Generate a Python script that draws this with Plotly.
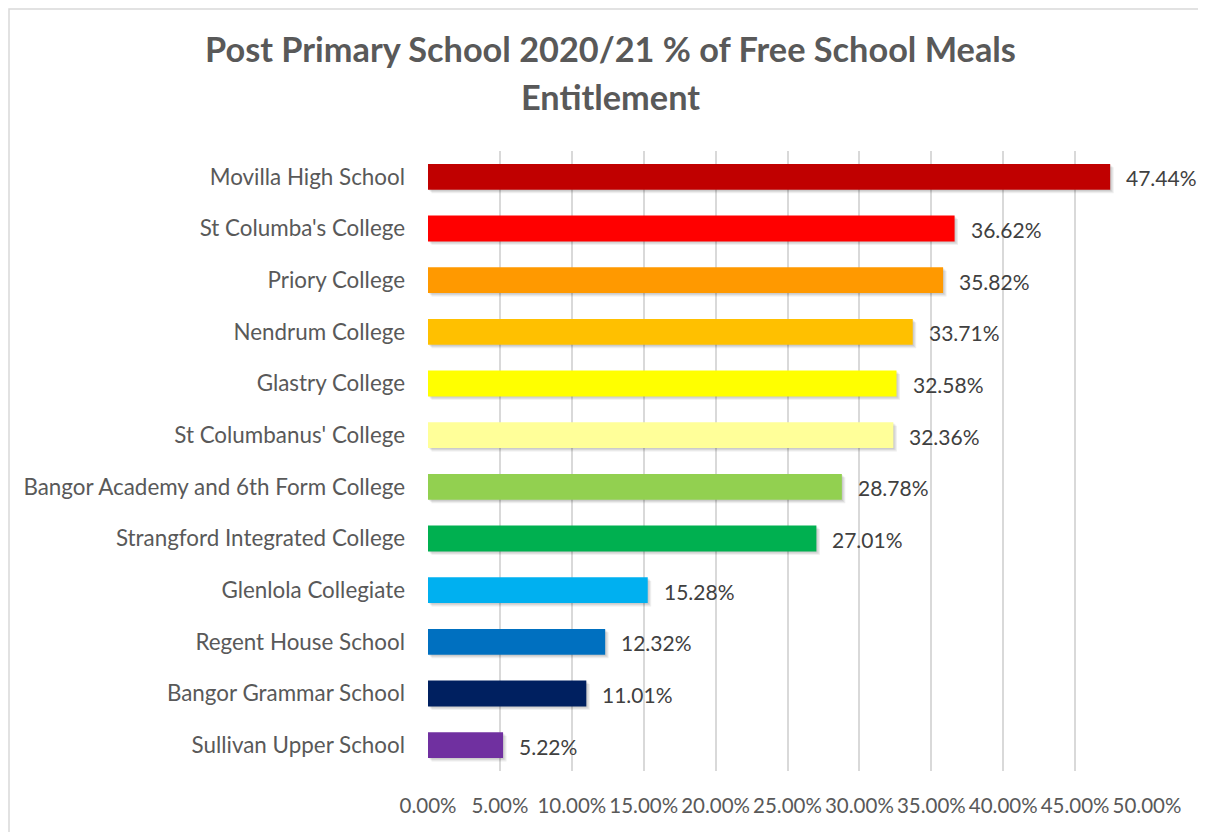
import plotly.graph_objects as go

schools = [
    "Movilla High School",
    "St Columba's College",
    "Priory College",
    "Nendrum College",
    "Glastry College",
    "St Columbanus' College",
    "Bangor Academy and 6th Form College",
    "Strangford Integrated College",
    "Glenlola Collegiate",
    "Regent House School",
    "Bangor Grammar School",
    "Sullivan Upper School",
]
fsm_pct = [47.44, 36.62, 35.82, 33.71, 32.58, 32.36, 28.78, 27.01, 15.28, 12.32, 11.01, 5.22]
bar_colors = ["#C00000", "#FF0000", "#FF9900", "#FFC000", "#FFFF00", "#FFFF99",
              "#92D050", "#00B050", "#00B0F0", "#0070C0", "#002060", "#7030A0"]
tick_vals = [0, 5, 10, 15, 20, 25, 30, 35, 40, 45, 50]
tick_text = ["0.00%", "5.00%", "10.00%", "15.00%", "20.00%", "25.00%", "30.00%",
             "35.00%", "40.00%", "45.00%", "50.00%"]
title_lines = ["Post Primary School 2020/21 % of Free School Meals", "Entitlement"]

FONT = "Lato"
GRAY = "#595959"
BAR_W = 0.5

# page body has an 8px margin; work in page pixels and convert
OFF = 8
PAGE_W, PAGE_H = 1206, 832
W, H = PAGE_W - OFF, PAGE_H - OFF
L, R, T, B = 428 - OFF, PAGE_W - 1147, 151 - OFF, PAGE_H - 771
pw, ph = W - L - R, H - T - B

def px_x(p):
    return (p - OFF - L) / pw

def px_y(p):
    return (H - B - (p - OFF)) / ph

fig = go.Figure()
# soft drop shadow layers
for k in (3, 2, 1):
    fig.add_trace(go.Bar(
        y=schools,
        x=fsm_pct,
        base=0.08 * k,
        orientation="h",
        width=BAR_W,
        offset=-BAR_W / 2 + 0.022 * k,
        marker=dict(color="rgba(0,0,0,0.07)", line=dict(width=0)),
        hoverinfo="skip",
    ))
fig.add_trace(go.Bar(
    y=schools,
    x=fsm_pct,
    orientation="h",
    width=BAR_W,
    offset=-BAR_W / 2,
    marker=dict(color=bar_colors, line=dict(width=0)),
    hoverinfo="skip",
))

annotations = []
for s, v in zip(schools, fsm_pct):
    annotations.append(dict(
        x=v, y=s, xref="x", yref="y", text=f"{v:.2f}%",
        showarrow=False, xanchor="left", yanchor="middle", xshift=14, yshift=-1,
        font=dict(family=FONT, size=21, color="#404040"),
    ))
for i, line in enumerate(title_lines):
    annotations.append(dict(
        x=px_x(610), y=px_y(49 + 47 * i), xref="paper", yref="paper",
        text=f"<b>{line}</b>", showarrow=False, xanchor="center", yanchor="middle",
        font=dict(family=FONT, size=34.3, color=GRAY),
    ))

fig.update_layout(
    width=W, height=H,
    margin=dict(l=L, r=R, t=T, b=B, autoexpand=False),
    paper_bgcolor="white",
    plot_bgcolor="white",
    showlegend=False,
    barmode="overlay",
    xaxis=dict(
        range=[0, 50],
        tickvals=tick_vals,
        ticktext=tick_text,
        showgrid=True,
        gridcolor="#D9D9D9",
        gridwidth=1.5,
        zeroline=False,
        showline=False,
        ticks="",
        automargin=False,
        ticklabelstandoff=20,
        tickfont=dict(family=FONT, size=20.5, color=GRAY),
        fixedrange=True,
    ),
    yaxis=dict(
        autorange="reversed",
        showgrid=False,
        zeroline=False,
        showline=False,
        ticks="",
        automargin=False,
        ticklabelstandoff=22,
        tickfont=dict(family=FONT, size=22.4, color=GRAY),
        fixedrange=True,
    ),
    annotations=annotations,
    shapes=[dict(
        type="rect", xref="paper", yref="paper",
        x0=px_x(OFF + 1), x1=px_x(1204), y0=px_y(845), y1=px_y(OFF + 1),
        line=dict(color="#D9D9D9", width=1.5), fillcolor="rgba(0,0,0,0)",
        layer="below",
    )],
)

fig.write_html("out.html")
